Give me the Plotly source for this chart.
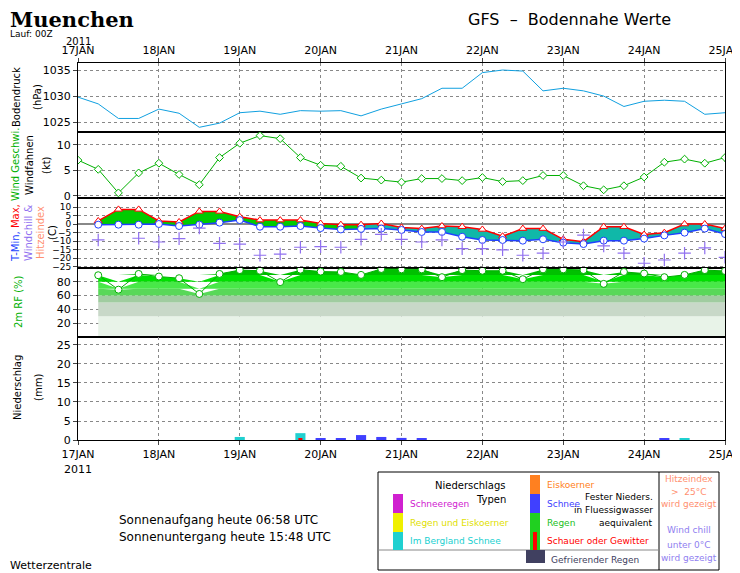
import plotly.graph_objects as go

W, H = 740, 573

# 6-hourly steps, hours since 17JAN 00Z
hours = [6 * i for i in range(33)]
day_ticks = [0, 24, 48, 72, 96, 120, 144, 168, 192]
day_labels = ['17JAN', '18JAN', '19JAN', '20JAN', '21JAN', '22JAN', '23JAN', '24JAN', '25JAN']

pressure = [1029.8, 1028.5, 1025.7, 1025.7, 1027.5, 1026.7, 1024.0, 1024.8, 1026.8, 1027.1,
            1026.5, 1027.2, 1027.1, 1027.2, 1026.2, 1027.5, 1028.5, 1029.5, 1031.5, 1031.5,
            1034.5, 1035.0, 1034.8, 1031.0, 1031.5, 1031.0, 1030.0, 1028.0, 1029.0, 1029.2,
            1029.0, 1026.5, 1026.8]
wind = [7.0, 5.2, 0.6, 4.5, 6.4, 4.2, 2.2, 7.5, 10.3, 11.8, 11.2, 7.5, 6.0, 5.8, 3.5, 3.1,
        2.7, 3.4, 3.4, 3.0, 3.6, 2.8, 3.0, 4.0, 4.0, 2.0, 1.2, 2.0, 3.7, 6.6, 7.2, 6.4, 7.5]

# temperature from step 1 on
t_hours = hours[1:]
tmax = [2.0, 8.8, 8.8, 2.0, 1.4, 7.6, 7.6, 4.5, 2.5, 2.5, 2.5, 0.5, -0.2, -0.2, 0.5, -1.8,
        -2.5, -1.0, -1.4, -3.0, -7.0, -2.5, -2.5, -8.8, -10.2, -1.4, -1.4, -6.0, -4.9, 0.2,
        0.2, -2.5]
tmin = [-0.2, -0.2, -0.2, 0.2, -1.0, -0.2, 1.0, 2.5, -1.4, -1.4, -1.0, -2.2, -3.0, -2.7,
        -2.5, -3.3, -4.5, -4.5, -7.3, -9.2, -9.2, -9.6, -8.8, -10.8, -11.6, -9.6, -9.6, -8.4,
        -6.5, -4.9, -2.5, -5.7]
windchill = [-9.2, None, -8.2, -10.4, -8.4, -2.2, -11.2, -11.6, -18.2, -17.5, -13.5, -13.1,
             -13.5, -8.8, -5.9, -8.8, -10.4, -9.2, -14.3, -14.3, -15.0, -18.2, -17.0, -10.4,
             -6.3, -12.7, -17.0, -22.9, -21.0, -17.0, -13.9, -19.4]
rf = [89.5, 68.6, 91.4, 87.6, 85.2, 62.4, 91.4, 97.0, 96.0, 79.5, 97.6, 94.8, 94.3, 90.0,
      98.6, 98.0, 98.0, 86.7, 97.0, 96.0, 96.0, 83.8, 98.0, 98.0, 97.0, 77.0, 94.3, 92.0,
      86.7, 90.0, 97.0, 95.7]
rf_bands = [(0, 30, '#e8f3e8'), (30, 50, '#c8d8c8'), (50, 60, '#a0cca0'), (60, 70, '#58d858'),
            (70, 80, '#48e848'), (80, 90, '#00e000'), (90, 100, '#00c000')]

precip_hours = [48, 66, 72, 78, 84, 90, 96, 102, 174, 180]
precip_mm = [0.8, 1.8, 0.3, 0.3, 1.3, 0.8, 0.55, 0.3, 0.5, 0.3]
precip_col = ['#20d0d0', '#20d0d0', '#4040ff', '#4040ff', '#4040ff', '#4040ff', '#4040ff',
              '#4040ff', '#4040ff', '#20d0d0']

OFF = 8  # page body margin


def px(x):
    return (x - OFF) / W


def py(y):
    return 1 - (y - OFF) / H


X0, X1 = 78, 725
panels = [(63, 132), (132, 198), (198, 268), (268, 337), (337, 440)]

fig = go.Figure()

# pressure
fig.add_trace(go.Scatter(x=hours, y=pressure, mode='lines', line=dict(color='#10a0e0', width=1),
                         xaxis='x', yaxis='y'))
# wind
fig.add_trace(go.Scatter(x=hours, y=wind, mode='lines+markers', xaxis='x2', yaxis='y2',
                         line=dict(color='#00b000', width=1),
                         marker=dict(symbol='diamond', size=6, color='white',
                                     line=dict(color='#00b000', width=1))))
# temperature fill
split = 14
fig.add_trace(go.Scatter(x=t_hours[:split], y=tmin[:split], mode='lines', line=dict(width=0),
                         xaxis='x3', yaxis='y3', hoverinfo='skip'))
fig.add_trace(go.Scatter(x=t_hours[:split], y=tmax[:split], mode='lines', line=dict(width=0),
                         fill='tonexty', fillcolor='#00cc00', xaxis='x3', yaxis='y3'))
fig.add_trace(go.Scatter(x=t_hours[split - 1:], y=tmin[split - 1:], mode='lines', line=dict(width=0),
                         xaxis='x3', yaxis='y3', hoverinfo='skip'))
fig.add_trace(go.Scatter(x=t_hours[split - 1:], y=tmax[split - 1:], mode='lines', line=dict(width=0),
                         fill='tonexty', fillcolor='#10b8a8', xaxis='x3', yaxis='y3'))
fig.add_trace(go.Scatter(x=t_hours, y=tmax, mode='lines+markers', xaxis='x3', yaxis='y3',
                         line=dict(color='red', width=1.5),
                         marker=dict(symbol='triangle-up', size=7, color='white',
                                     line=dict(color='red', width=1))))
fig.add_trace(go.Scatter(x=t_hours, y=tmin, mode='lines+markers', xaxis='x3', yaxis='y3',
                         line=dict(color='#2040ff', width=1.5),
                         marker=dict(symbol='circle', size=7, color='white',
                                     line=dict(color='#2040ff', width=1))))
fig.add_trace(go.Scatter(x=t_hours, y=windchill, mode='markers', xaxis='x3', yaxis='y3',
                         marker=dict(symbol='cross-thin', size=9,
                                     line=dict(color='#9070f0', width=1.2))))
# relative humidity bands
for lo, hi, col in rf_bands:
    fig.add_trace(go.Scatter(x=t_hours, y=[lo] * len(t_hours), mode='lines', line=dict(width=0),
                             xaxis='x4', yaxis='y4', hoverinfo='skip'))
    fig.add_trace(go.Scatter(x=t_hours, y=[max(lo, min(v, hi)) for v in rf], mode='lines',
                             line=dict(width=0), fill='tonexty', fillcolor=col,
                             xaxis='x4', yaxis='y4'))
fig.add_trace(go.Scatter(x=t_hours, y=rf, mode='lines+markers', xaxis='x4', yaxis='y4',
                         line=dict(color='#00b000', width=1),
                         marker=dict(symbol='circle', size=7, color='white',
                                     line=dict(color='#00b000', width=1))))
# precipitation
fig.add_trace(go.Bar(x=precip_hours, y=precip_mm, width=3, marker=dict(color=precip_col, line=dict(width=0)),
                     xaxis='x5', yaxis='y5'))
fig.add_trace(go.Bar(x=[66], y=[0.3], width=1.2, marker=dict(color='red', line=dict(width=0)),
                     xaxis='x5', yaxis='y5'))

grid = dict(showgrid=True, gridcolor='#888888', griddash='dot', gridwidth=1)
font = dict(family='DejaVu Sans', size=11, color='black')
xbase = dict(range=[0, 192], domain=[px(X0), px(X1)], tickvals=day_ticks, showline=True,
             linecolor='black', mirror=True, zeroline=False, tickfont=font, automargin=False,
             **grid)

layout = dict(width=W, height=H, margin=dict(l=0, r=0, t=0, b=0, autoexpand=False),
              showlegend=False, plot_bgcolor='white', paper_bgcolor='white', barmode='overlay')
yspecs = [
    dict(range=[1023.1, 1036.35], tickvals=[1025, 1030, 1035]),
    dict(range=[-0.4, 12.5], tickvals=[0, 5, 10]),
    dict(range=[-25.7, 15.5], tickvals=[10, 5, 0, -5, -10, -15, -20, -25]),
    dict(range=[0, 100], tickvals=[20, 40, 60, 80]),
    dict(range=[0, 27.1], tickvals=[0, 5, 10, 15, 20, 25]),
]
for k, ((top, bot), ys) in enumerate(zip(panels, yspecs), start=1):
    sfx = '' if k == 1 else str(k)
    xa = dict(xbase, anchor='y' + sfx)
    if k == 1:
        xa.update(side='top', ticktext=day_labels, ticks='outside', ticklen=4)
    elif k == 5:
        xa.update(ticktext=['17JAN<br>2011'] + day_labels[1:], ticks='outside', ticklen=4)
    else:
        xa.update(showticklabels=False)
    if k > 1:
        xa['matches'] = 'x'
    layout['xaxis' + sfx] = xa
    layout['yaxis' + sfx] = dict(ys, domain=[py(bot), py(top)], anchor='x' + sfx,
                                 showline=True, linecolor='black', mirror=True,
                                 ticks='outside', ticklen=4, automargin=False,
                                 tickfont=dict(font, size=9 if k == 3 else 11),
                                 zeroline=(k == 3), zerolinecolor='#888888', **grid)
fig.update_layout(**layout)

ann = []


def text(x, y, s, size=11, color='black', angle=0, xanchor='left', family='DejaVu Sans'):
    ann.append(dict(x=px(x), y=py(y), xref='paper', yref='paper', text=s, showarrow=False,
                    textangle=angle, xanchor=xanchor, yanchor='middle',
                    font=dict(size=size, color=color, family=family)))


text(8, 19, '<b>Muenchen</b>', size=21, family='DejaVu Serif')
text(8, 34, 'Lauf: 00Z', size=9)
text(466, 19, 'GFS  \u2013  Bodennahe Werte', size=16)
text(64, 41, '2011', size=10)
# axis titles
text(17, 97, 'Bodendruck', size=10, angle=-90, xanchor='center')
text(38, 97, '(hPa)', size=10, angle=-90, xanchor='center')
text(15, 165, 'Wind Geschwi.', size=10, color='#00b000', angle=-90, xanchor='center')
text(29, 165, 'Windfahnen', size=10, angle=-90, xanchor='center')
text(46, 165, '(kt)', size=10, angle=-90, xanchor='center')
text(15, 233, '<span style="color:#2040ff">T-Min,</span> <span style="color:red">Max,</span>',
     size=10, angle=-90, xanchor='center')
text(28, 233, 'Windchill &', size=10, color='#9070f0', angle=-90, xanchor='center')
text(40, 233, 'Hitzeindex', size=10, color='#ff9070', angle=-90, xanchor='center')
text(52, 233, '(C)', size=10, angle=-90, xanchor='center')
text(18, 302, '2m RF (%)', size=10, color='#00b000', angle=-90, xanchor='center')
text(17, 388, 'Niederschlag', size=10, angle=-90, xanchor='center')
text(38, 388, '(mm)', size=10, angle=-90, xanchor='center')
text(117, 520, 'Sonnenaufgang heute 06:58 UTC', size=12)
text(117, 537, 'Sonnenuntergang heute 15:48 UTC', size=12)
text(8, 565, 'Wetterzentrale', size=11)

# legend box
shapes = [
    dict(type='rect', x0=px(378), x1=px(719), y0=py(570), y1=py(472), xref='paper', yref='paper',
         line=dict(color='black', width=1)),
    dict(type='line', x0=px(659), x1=px(659), y0=py(570), y1=py(472), xref='paper', yref='paper',
         line=dict(color='black', width=1)),
    dict(type='line', x0=px(378), x1=px(659), y0=py(550), y1=py(550), xref='paper', yref='paper',
         line=dict(color='#888888', width=1)),
]
swatches = [(393, 403, 494, 513, '#d020d0'), (393, 403, 513, 532, '#f0f000'),
            (393, 403, 532, 550, '#20d0d0'), (530, 540, 475, 494, '#ff8020'),
            (530, 540, 494, 513, '#4040ff'), (530, 540, 513, 550, '#20d020'),
            (533, 537, 532, 550, '#ff0000'), (526, 545, 550, 563, '#404060')]
for x0, x1, y0, y1, c in swatches:
    shapes.append(dict(type='rect', x0=px(x0), x1=px(x1), y0=py(y1), y1=py(y0), xref='paper',
                       yref='paper', fillcolor=c, line=dict(width=0)))
fig.update_layout(shapes=shapes)

text(508, 485, 'Niederschlags', size=10, xanchor='right')
text(508, 499, 'Typen', size=10, xanchor='right')
text(408, 504, 'Schneeregen', size=9, color='#d020d0')
text(408, 523, 'Regen und Eiskoerner', size=9, color='#e0e000')
text(408, 541, 'Im Bergland Schnee', size=9, color='#20d0d0')
text(545, 485, 'Eiskoerner', size=9, color='#ff8020')
text(545, 504, 'Schnee', size=9, color='#4040ff')
text(545, 523, 'Regen', size=9, color='#20c020')
text(545, 541, 'Schauer oder Gewitter', size=9, color='red')
text(549, 560, 'Gefrierender Regen', size=9, color='#404060')
text(655, 497, 'Fester Nieders.', size=9, xanchor='right')
text(655, 510, 'in Fluessigwasser', size=9, xanchor='right')
text(655, 523, 'aequivalent', size=9, xanchor='right')
for yy, s in [(479, 'Hitzeindex'), (492, '>  25\u00b0C'), (504, 'wird gezeigt')]:
    text(689, yy, s, size=9, color='#ff9070', xanchor='center')
for yy, s in [(530, 'Wind chill'), (545, 'unter 0\u00b0C'), (558, 'wird gezeigt')]:
    text(689, yy, s, size=9, color='#9080f0', xanchor='center')
fig.update_layout(annotations=ann)

fig.write_html("out.html")
